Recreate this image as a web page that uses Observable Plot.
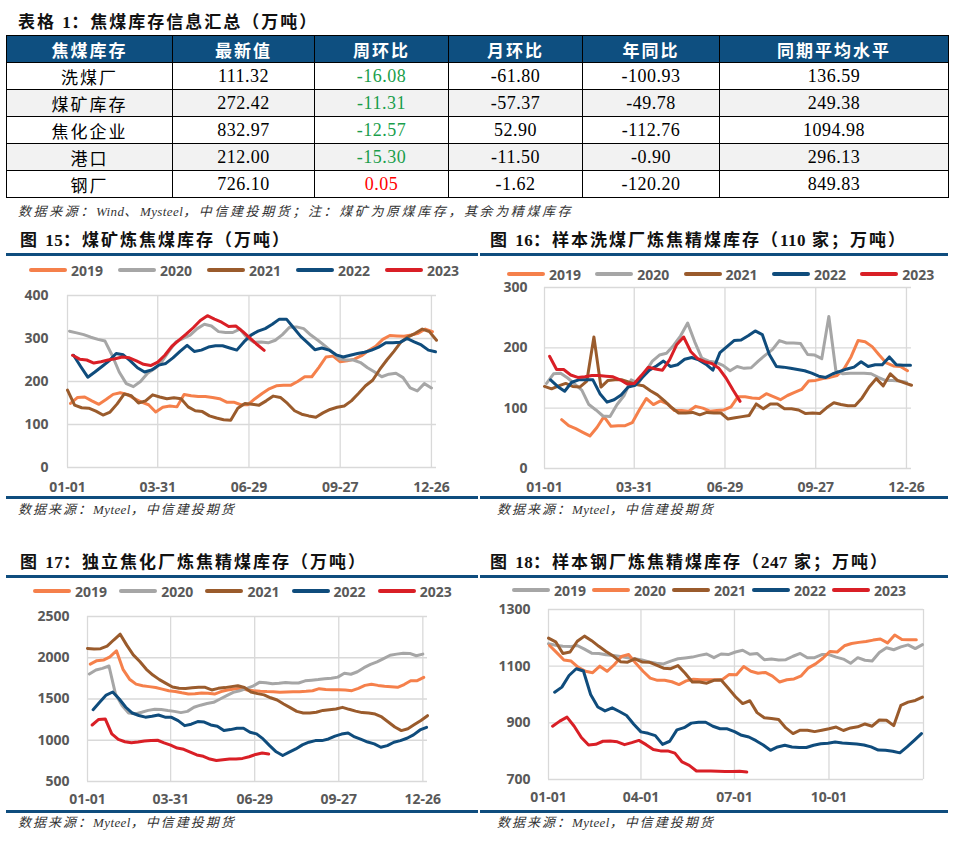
<!DOCTYPE html>
<html>
<head>
<meta charset="utf-8">
<script src="https://cdn.jsdelivr.net/npm/d3@7"></script>
<script src="https://cdn.jsdelivr.net/npm/@observablehq/plot@0.6"></script>
<style>
  body { margin: 0; background: #fff; }
  #page { position: relative; width: 957px; height: 849px; overflow: hidden; background: #fff;
          font-family: "Liberation Serif", "Noto Sans CJK SC", serif; }
  .title { position: absolute; font-size: 17px; font-weight: bold; letter-spacing: 2px; color: #111;
           white-space: nowrap; line-height: 20px; }
  .rule { position: absolute; height: 3px; background: #0f4d7e; }
  .src { position: absolute; font-size: 13px; font-style: italic; letter-spacing: 2px; color: #333;
         white-space: nowrap; line-height: 18px; }
  .lat { letter-spacing: 0.4px; }
  .leg { position: absolute; display: flex; align-items: center; height: 16px;
         font: bold 14px "Noto Sans", sans-serif; color: #595959; }
  .sw { display: inline-block; width: 38px; height: 4px; margin-right: 4px; border-radius: 2px; }
  #tbl { position: absolute; left: 6px; top: 35px; width: 942px; border-collapse: collapse; table-layout: fixed; }
  #tbl th, #tbl td { border: 1px solid #000; padding: 0; text-align: center; height: 26px; }
  #tbl th { background: #0e4f80; color: #fff; font: bold 17px "Noto Sans CJK SC", sans-serif; letter-spacing: 2px; }
  #tbl td.lab { font: 17px "Noto Sans CJK SC", sans-serif; letter-spacing: 2px; color: #000; }
  #tbl td.num { font: 18px "Liberation Serif", serif; letter-spacing: 0.5px; color: #000; }
  #tbl tr.alt td { background: #f2f2f2; }
  .chart { position: absolute; }
</style>
</head>
<body>
<div id="page"></div>
<script>
// ---------- summary table ----------
const tableHeader = ["焦煤库存", "最新值", "周环比", "月环比", "年同比", "同期平均水平"];
const tableRows = ["洗煤厂", "煤矿库存", "焦化企业", "港口", "钢厂"];
const latestValue = [111.32, 272.42, 832.97, 212.00, 726.10];
const weekChange = [-16.08, -11.31, -12.57, -15.30, 0.05];
const monthChange = [-61.80, -57.37, 52.90, -11.50, -1.62];
const yearChange = [-100.93, -49.78, -112.76, -0.90, -120.20];
const periodAverage = [136.59, 249.38, 1094.98, 296.13, 849.83];

// ---------- weekly stocks (first date of each series, then one value per week) ----------
const years = ["2019", "2020", "2021", "2022", "2023"];

// 图15 煤矿炼焦煤库存
const mineStart = ["01-04", "01-03", "01-01", "01-07", "01-06"];
const mine2019 = [149,163,164,155,147,158,170,174,170,160,152,146,129,140,143,141,170,167,165,165,163,160,152,152,146,146,160,172,183,190,191,191,200,211,211,233,257,259,246,248,252,260,272,282,298,307,306,305,308,312,322,316];
const mine2020 = [317,313,309,303,298,294,261,222,195,188,200,219,230,246,270,292,300,308,323,333,329,316,314,314,322,302,291,292,290,296,309,326,327,323,308,296,283,269,253,250,250,244,232,222,211,217,219,209,185,178,195,185];
const mine2021 = [180,145,139,138,131,122,129,148,171,167,150,155,169,164,160,162,160,141,132,130,120,115,111,110,138,149,147,145,155,166,163,149,132,124,120,117,127,135,140,143,155,172,190,203,228,250,270,292,304,312,322,316,296];
const mine2022 = [261,235,210,222,235,248,265,262,248,232,222,227,238,242,255,270,284,270,273,280,283,283,278,273,292,308,317,323,333,345,345,325,305,290,274,278,273,262,257,261,265,268,273,280,290,290,291,300,292,285,273,269];
const mine2023 = [261,252,250,243,246,250,253,257,255,248,240,237,245,261,282,296,310,325,342,353,345,338,328,329,316,301,286,272.42];

// 图16 样本洗煤厂炼焦精煤库存
const washStart = ["01-18", "01-03", "01-01", "01-07", "01-06"];
const wash2019 = [81,71,66,60,54,68,86,70,71,71,76,97,116,106,112,107,96,96,95,103,100,95,96,97,102,119,119,117,116,124,119,114,121,126,131,145,146,149,151,154,165,185,212,210,202,188,175,170,169,162];
const wash2020 = [141,157,158,150,140,130,106,97,87,86,106,121,147,141,160,178,188,191,204,220,241,210,183,178,176,171,162,169,166,167,178,188,197,212,208,208,207,189,188,182,252,162,157,158,158,158,157,151,146,146,145,143];
const wash2021 = [136,132,137,141,136,135,145,218,135,146,147,147,143,139,137,129,122,112,101,92,92,93,89,93,92,92,82,84,86,88,107,99,107,107,99,99,97,91,92,91,101,109,106,104,104,117,135,149,137,157,146,142,138];
const wash2022 = [147,136,128,143,147,147,147,124,110,114,122,135,138,151,163,170,178,169,172,181,184,180,173,163,192,202,212,213,220,228,222,189,169,168,166,164,162,158,153,151,157,161,165,168,177,169,172,172,185,172,171,171];
const wash2023 = [186,164,164,155,151,152,154,154,153,152,147,140,141,154,168,165,163,180,205,218,194,182,177,174,166,150,130,111.32];

// 图17 独立焦化厂炼焦精煤库存
const cokeStart = ["01-04", "01-03", "01-01", "01-07", "01-06"];
const coke2019 = [1923,1965,1972,2010,2085,1860,1740,1680,1660,1650,1640,1620,1601,1592,1575,1560,1565,1573,1570,1560,1590,1610,1622,1629,1610,1600,1593,1590,1589,1581,1585,1589,1589,1593,1600,1625,1615,1613,1613,1610,1601,1629,1665,1679,1665,1655,1648,1641,1675,1722,1722,1762];
const coke2020 = [1802,1851,1871,1900,1560,1420,1330,1320,1340,1362,1375,1372,1360,1350,1335,1350,1400,1425,1445,1460,1500,1540,1580,1600,1625,1655,1702,1696,1685,1690,1700,1694,1694,1720,1728,1736,1746,1752,1765,1812,1800,1830,1880,1920,1950,1990,2030,2044,2054,2052,2024,2044];
const coke2021 = [2113,2105,2110,2140,2215,2286,2153,2035,1955,1860,1790,1735,1690,1645,1630,1628,1635,1641,1641,1610,1629,1638,1650,1661,1640,1585,1565,1550,1515,1488,1440,1395,1350,1331,1331,1340,1362,1371,1379,1399,1375,1353,1335,1331,1318,1282,1222,1160,1117,1140,1190,1240,1298];
const coke2022 = [1371,1460,1548,1585,1500,1400,1330,1300,1280,1290,1306,1280,1278,1238,1177,1195,1226,1220,1185,1170,1117,1129,1145,1145,1097,1077,1016,935,860,815,855,895,944,976,996,996,1016,1050,1075,1089,1040,1010,978,956,915,935,976,996,1024,1065,1125,1157];
const coke2023 = [1185,1252,1258,1077,1010,982,970,978,990,997,1000,968,940,905,890,855,822,806,772,754,764,774,774,780,800,828,845,832.97];

// 图18 样本钢厂炼焦精煤库存
const steelStart = ["01-01", "01-02", "01-01", "01-07", "01-05"];
const steel2019 = [1179,1174,1170,1169,1173,1160,1146,1145,1140,1138,1134,1130,1126,1122,1115,1110,1108,1118,1126,1129,1132,1138,1143,1130,1143,1141,1150,1156,1142,1145,1123,1125,1122,1123,1135,1145,1130,1130,1141,1141,1132,1125,1110,1130,1121,1118,1148,1165,1158,1168,1175,1162,1176];
const steel2020 = [1173,1148,1122,1118,1096,1082,1077,1100,1082,1105,1134,1141,1110,1082,1058,1050,1050,1045,1035,1048,1054,1052,1052,1052,1052,1071,1070,1099,1082,1075,1078,1065,1044,1052,1055,1066,1094,1108,1128,1152,1150,1172,1180,1184,1187,1192,1196,1182,1210,1194,1193,1193];
const steel2021 = [1199,1186,1145,1150,1188,1206,1190,1170,1152,1136,1116,1114,1126,1115,1114,1104,1093,1091,1102,1075,1044,1044,1040,1050,1051,1022,992,968,978,936,918,915,912,882,862,874,874,869,874,879,885,873,882,886,896,888,910,909,890,962,973,979,991];
const steel2022 = [1008,1026,1067,1091,1083,1000,956,942,953,940,926,895,868,863,855,824,835,875,883,899,902,902,888,879,879,869,856,850,837,822,803,815,821,815,813,813,821,826,828,832,829,827,825,822,815,804,803,800,794,815,838,862];
const steel2023 = [888,906,920,888,848,822,824,835,836,833,823,830,838,823,806,801,801,793,762,750,730,730,730,729,728,728,729,726.10];

// axis ticks
const quarterTicks = ["01-01", "03-31", "06-29", "09-27", "12-26"];
const monthTicks = ["01-01", "04-01", "07-01", "10-01"];

// palette
const ORANGE = "#f5804b", GREY = "#a6a6a6", BROWN = "#9a5b2c", BLUE = "#0f4c7c", RED = "#d91f26";

// ---------- helpers ----------
const page = document.getElementById("page");
const md = (s, extraDays = 0) => {
  const [m, d] = s.split("-").map(Number);
  return new Date(Date.UTC(2023, m - 1, d + extraDays));
};

// text with Latin runs kept tight while CJK keeps its wider tracking
function setMixedText(el, text) {
  text.split(/([A-Za-z0-9]+)/).forEach(part => {
    if (!part) return;
    if (/^[A-Za-z0-9]+$/.test(part)) {
      const s = document.createElement("span");
      s.className = "lat";
      s.textContent = part;
      el.appendChild(s);
    } else {
      el.appendChild(document.createTextNode(part));
    }
  });
}

function addDiv(cls, left, top, text, extra = {}) {
  const el = document.createElement("div");
  el.className = cls;
  el.style.left = left + "px";
  el.style.top = top + "px";
  if (text != null) setMixedText(el, text);
  Object.assign(el.style, extra);
  page.appendChild(el);
  return el;
}

function addLegend(left, top, step, names, colors) {
  names.forEach((n, i) => {
    const item = addDiv("leg", left + i * step, top, null);
    const sw = document.createElement("span");
    sw.className = "sw";
    sw.style.background = colors[i];
    const tx = document.createElement("span");
    tx.textContent = n;
    item.appendChild(sw);
    item.appendChild(tx);
  });
}

function weeklyRows(starts, seriesList) {
  return seriesList.flatMap((vals, i) =>
    vals.map((v, k) => ({ year: years[i], date: md(starts[i], 7 * k), value: v })));
}

function drawChart(o) {
  const data = weeklyRows(o.starts, o.series);
  const svg = Plot.plot({
    width: o.width, height: o.height,
    marginLeft: o.mL, marginRight: o.mR, marginTop: o.mT, marginBottom: o.mB,
    style: { background: "transparent", overflow: "visible", fontFamily: "'Noto Sans', sans-serif",
             fontSize: "14px", fontWeight: "bold", color: "#595959" },
    x: { type: "utc", domain: [md("01-01"), o.xEnd], ticks: o.xTicks.map(s => md(s)),
         tickFormat: d3.utcFormat("%m-%d"), tickSize: 0, tickPadding: o.padX, label: null },
    y: { domain: o.yDomain, ticks: o.yTicks, tickFormat: d => String(d), tickSize: 0, tickPadding: o.padY, label: null },
    color: { domain: years, range: o.colors },
    marks: [
      Plot.ruleY(o.yTicks, { stroke: "#d9d9d9", strokeWidth: 1.3 }),
      Plot.ruleX(o.gridX, { stroke: "#d9d9d9", strokeWidth: 1.3 }),
      Plot.line(data, { x: "date", y: "value", z: "year", stroke: "year", strokeWidth: 3,
                        strokeLinejoin: "round", strokeLinecap: "round" })
    ]
  });
  const wrap = addDiv("chart", o.left, o.top, null);
  wrap.appendChild(svg);
}

// ---------- table ----------
addDiv("title", 18, 13, "表格 1：焦煤库存信息汇总（万吨）");
const tbl = document.createElement("table");
tbl.id = "tbl";
const colW = [166, 142, 134, 134, 137, 229];
const cg = document.createElement("colgroup");
colW.forEach(w => { const c = document.createElement("col"); c.style.width = w + "px"; cg.appendChild(c); });
tbl.appendChild(cg);
const hr = document.createElement("tr");
tableHeader.forEach(h => { const th = document.createElement("th"); th.textContent = h; hr.appendChild(th); });
tbl.appendChild(hr);
tableRows.forEach((name, i) => {
  const tr = document.createElement("tr");
  if (i % 2 === 1) tr.className = "alt";
  const cells = [name, latestValue[i], weekChange[i], monthChange[i], yearChange[i], periodAverage[i]];
  cells.forEach((v, j) => {
    const td = document.createElement("td");
    if (j === 0) { td.className = "lab"; td.textContent = v; }
    else {
      td.className = "num";
      td.textContent = v.toFixed(2);
      if (j === 2) td.style.color = v < 0 ? "#1a9e4b" : "#ff0000";
    }
    tr.appendChild(td);
  });
  tbl.appendChild(tr);
});
page.appendChild(tbl);
addDiv("src", 18, 203, "数据来源：Wind、Mysteel，中信建投期货；注：煤矿为原煤库存，其余为精煤库存",
       { letterSpacing: "2.6px" });

// ---------- chart titles ----------
addDiv("title", 20, 231, "图 15：煤矿炼焦煤库存（万吨）");
addDiv("title", 490, 231, "图 16：样本洗煤厂炼焦精煤库存（110 家；万吨）");
addDiv("title", 20, 553, "图 17：独立焦化厂炼焦精煤库存（万吨）");
addDiv("title", 490, 553, "图 18：样本钢厂炼焦精煤库存（247 家；万吨）");

const palette = [ORANGE, GREY, BROWN, BLUE, RED];
const steelPalette = [GREY, ORANGE, BROWN, BLUE, RED];

// ---------- charts ----------
drawChart({
  left: 0, top: 280, width: 478, height: 220, mL: 67, mR: 42, mT: 15, mB: 33,
  xEnd: md("12-31"), xTicks: quarterTicks, gridX: quarterTicks.map(s => md(s)), padX: 15, padY: 19,
  yDomain: [0, 400], yTicks: [0, 100, 200, 300, 400], colors: palette,
  starts: mineStart, series: [mine2019, mine2020, mine2021, mine2022, mine2023]
});
drawChart({
  left: 480, top: 275, width: 469, height: 225, mL: 64, mR: 38, mT: 12, mB: 32,
  xEnd: md("12-31"), xTicks: quarterTicks, gridX: quarterTicks.map(s => md(s)), padX: 14, padY: 17,
  yDomain: [0, 300], yTicks: [0, 100, 200, 300], colors: palette,
  starts: washStart, series: [wash2019, wash2020, wash2021, wash2022, wash2023]
});
drawChart({
  left: 0, top: 600, width: 478, height: 215, mL: 87, mR: 51, mT: 16, mB: 34,
  xEnd: md("12-31"), xTicks: quarterTicks, gridX: quarterTicks.map(s => md(s)), padX: 13, padY: 18,
  yDomain: [500, 2500], yTicks: [500, 1000, 1500, 2000, 2500], colors: palette,
  starts: cokeStart, series: [coke2019, coke2020, coke2021, coke2022, coke2023]
});
drawChart({
  left: 480, top: 595, width: 469, height: 220, mL: 68, mR: 26, mT: 14, mB: 36,
  xEnd: md("12-31", 1), xTicks: monthTicks, gridX: [...monthTicks.map(s => md(s)), md("12-31", 1)], padX: 13, padY: 18,
  yDomain: [700, 1300], yTicks: [700, 900, 1100, 1300], colors: steelPalette,
  starts: steelStart, series: [steel2019, steel2020, steel2021, steel2022, steel2023]
});

// legends
addLegend(29, 262, 89, years, palette);
addLegend(507, 266, 88.3, years, palette);
addLegend(33, 583, 86.2, years, palette);
addLegend(512, 582, 80, years, steelPalette);

// rules above and below each chart
[[6, 253, 472], [480, 253, 468], [6, 496, 472], [480, 496, 468],
 [6, 575, 472], [480, 575, 468], [6, 810, 472], [480, 810, 468]].forEach(([l, t, w]) =>
  addDiv("rule", l, t, null, { width: w + "px" }));

addDiv("src", 18, 501, "数据来源：Myteel，中信建投期货");
addDiv("src", 497, 501, "数据来源：Myteel，中信建投期货");
addDiv("src", 18, 814, "数据来源：Myteel，中信建投期货");
addDiv("src", 497, 814, "数据来源：Myteel，中信建投期货");
</script>
</body>
</html>
